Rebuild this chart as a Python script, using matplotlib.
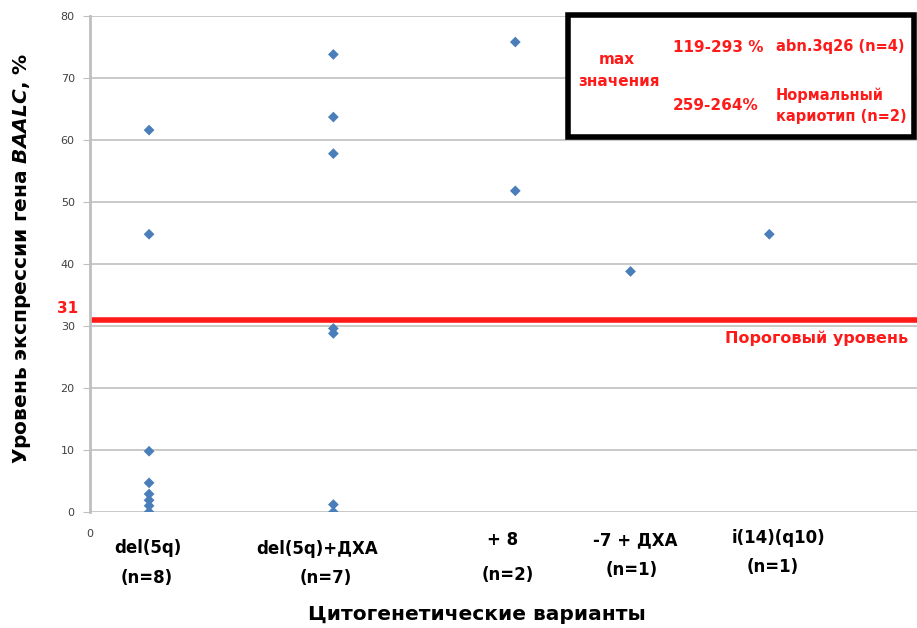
import matplotlib
matplotlib.use("Agg")
import matplotlib.pyplot as plt
from matplotlib.patches import Rectangle

plt.rcParams['font.family'] = ['DejaVu Sans']
plt.rcParams['mathtext.fontset'] = 'dejavusans'

# Cytogenetic groups and their horizontal positions on the value axis
categories = ["del(5q)", "del(5q)+ДХА", "+ 8", "-7 + ДХА", "i(14)(q10)"]
counts = ["(n=8)", "(n=7)", "(n=2)", "(n=1)", "(n=1)"]
x_pos = [1.0, 4.12, 7.2, 9.15, 11.5]

# BAALC expression levels (%) per group
values = [
    [61.6, 44.8, 9.8, 4.7, 2.9, 1.9, 1.0, 0.0],
    [73.8, 63.7, 57.8, 29.6, 28.8, 1.2, 0.0],
    [75.8, 51.8],
    [38.8],
    [44.8],
]
threshold = 31
y_ticks = [0, 10, 20, 30, 40, 50, 60, 70, 80]

red = "#ff1a1a"
blue = "#4a7ebb"

W, H = 917, 628
fig = plt.figure(figsize=(W / 100, H / 100), dpi=100)
ax = fig.add_axes([90 / W, 1 - 512 / H, 1 - 90 / W, (512 - 16) / H])


def fx(px):
    return px / W


def fy(py):
    return 1 - py / H


for xp, vals in zip(x_pos, values):
    ax.scatter([xp] * len(vals), vals, marker="D", s=30, color=blue,
               edgecolor="none", zorder=3)

ax.axhline(threshold, color=red, lw=4, zorder=2)

ax.set_xlim(0, 14)
ax.set_ylim(0, 80)
ax.set_yticks(y_ticks)
ax.set_yticklabels([str(t) for t in y_ticks], fontsize=8, color="#404040")
ax.set_xticks([0])
ax.set_xticklabels(["0"], fontsize=8, color="#404040")
ax.tick_params(axis="y", length=5, color="#bfbfbf", pad=6)
ax.tick_params(axis="x", length=0, pad=12)
ax.grid(axis="y", color="#c0c0c0", lw=1.2)
ax.set_axisbelow(True)
for side in ("top", "right", "bottom"):
    ax.spines[side].set_visible(False)
ax.spines["left"].set_color("#bfbfbf")
ax.spines["left"].set_linewidth(2)

# Threshold annotations
ax.text(-0.2, threshold + 0.6, str(threshold), color=red, fontsize=11,
        fontweight="bold", ha="right", va="bottom")
ax.text(13.85, threshold - 1.7, "Пороговый уровень", color=red, fontsize=11.5,
        fontweight="bold", ha="right", va="top")

# Category labels below the axis (figure pixel anchors)
cat_xy = [(148, 548), (317, 549), (503, 540), (635, 540), (778, 538)]
cnt_xy = [(147, 578), (326, 578), (508, 575), (632, 570), (773, 567)]
for cat, cnt, (cx, cy), (nx, ny) in zip(categories, counts, cat_xy, cnt_xy):
    fig.text(fx(cx), fy(cy), cat, fontsize=12, fontweight="bold",
             ha="center", va="center")
    fig.text(fx(nx), fy(ny), cnt, fontsize=12, fontweight="bold",
             ha="center", va="center")

fig.text(fx(477), fy(614), "Цитогенетические варианты", fontsize=14.5,
         fontweight="bold", ha="center", va="center")
fig.text(fx(22), fy(258),
         r"Уровень экспрессии гена $\mathbfit{BAALC}$, %", fontsize=14.5,
         fontweight="bold", ha="center", va="center", rotation=90)

# Maximum values box
fig.patches.append(Rectangle((fx(568), fy(137)), (914 - 568) / W,
                             (137 - 15) / H, transform=fig.transFigure,
                             facecolor="white", edgecolor="black", lw=4,
                             zorder=5))
box_texts = [
    (617, 60, "max", "center", 11),
    (619, 82, "значения", "center", 11),
    (673, 47, "119-293 %", "left", 11),
    (776, 47, "abn.3q26 (n=4)", "left", 10.5),
    (673, 105, "259-264%", "left", 11),
    (776, 95, "Нормальный", "left", 10.5),
    (776, 117, "кариотип (n=2)", "left", 10.5),
]
for px, py, s, ha, fs in box_texts:
    fig.text(fx(px), fy(py), s, color=red, fontsize=fs,
             fontweight="bold", ha=ha, va="center", zorder=6)

fig.savefig("out.png", dpi=100)
